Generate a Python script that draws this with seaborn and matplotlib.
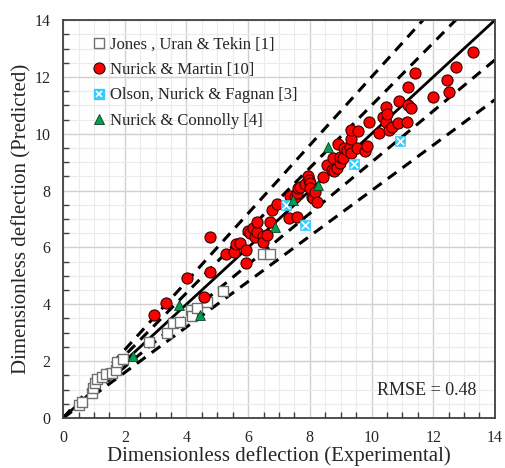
import numpy as np
import pandas as pd
import matplotlib
matplotlib.use('Agg')
import matplotlib.pyplot as plt
from matplotlib.lines import Line2D
from matplotlib.ticker import MultipleLocator
import seaborn as sns

# Jones, Uran & Tekin [1]
jones_x = [0.50, 0.62, 0.94, 0.97, 1.04, 1.10, 1.26, 1.39, 1.59, 1.72, 1.75, 1.94,
           2.79, 3.37, 3.56, 3.79, 4.15, 4.18, 4.34, 4.67, 5.18, 6.48, 6.71]
jones_y = [0.46, 0.56, 0.88, 1.06, 1.23, 1.37, 1.44, 1.55, 1.58, 1.69, 1.97, 2.08,
           2.67, 2.99, 3.34, 3.38, 3.80, 3.59, 3.87, 4.08, 4.47, 5.77, 5.77]

# Nurick & Martin [10]
martin_x = [2.95, 3.34, 4.02, 4.57, 4.76, 4.76, 5.28, 5.54, 5.61, 5.74, 5.93, 5.93, 5.99, 6.06,
            6.16, 6.22, 6.29, 6.29, 6.48, 6.48, 6.61, 6.71, 6.77, 6.93, 7.32, 7.58, 7.36, 7.52,
            7.58, 7.61, 7.68, 7.84, 7.94, 7.97, 8.00, 8.00, 8.07, 8.10, 8.17, 8.23, 8.43, 8.55,
            8.72, 8.78, 8.88, 8.75, 8.91, 8.98, 8.98, 9.07, 9.11, 9.20, 9.30, 9.33, 9.33, 9.33,
            9.53, 9.56, 9.79, 9.85, 9.92, 10.24, 10.37, 10.47, 10.47, 10.50, 10.56, 10.66, 10.86,
            10.89, 11.15, 11.18, 11.28, 11.18, 11.41, 11.99, 12.44, 12.51, 12.73, 13.29]
martin_y = [3.62, 4.05, 4.92, 4.26, 5.14, 6.35, 5.77, 5.84, 6.12, 6.16, 5.91, 5.45, 6.58, 6.51,
            6.68, 6.37, 6.54, 6.89, 6.40, 6.19, 6.44, 6.89, 7.32, 7.53, 7.03, 7.07, 7.81, 7.77,
            7.91, 8.09, 8.12, 8.23, 8.51, 8.37, 8.27, 8.09, 7.77, 7.74, 7.95, 7.60, 8.48, 8.90,
            8.72, 8.69, 8.79, 9.15, 9.64, 8.97, 9.18, 9.15, 9.50, 9.43, 9.53, 9.32, 9.81, 10.13,
            9.50, 10.09, 9.39, 9.57, 10.41, 10.02, 10.59, 10.94, 10.41, 10.69, 10.13, 10.24, 10.38,
            11.15, 10.41, 11.01, 10.90, 11.64, 12.13, 11.29, 11.89, 11.47, 12.35, 12.87]

# Olson, Nurick & Fagnan [3]
olson_x = [7.23, 7.84, 9.43, 10.92]
olson_y = [7.49, 6.79, 8.93, 9.74]

# Nurick & Connolly [4]
connolly_x = [2.27, 3.76, 4.44, 6.87, 7.45, 8.27, 8.59]
connolly_y = [2.18, 3.97, 3.62, 6.72, 7.67, 8.19, 9.53]

ratios = [0.8, 0.9, 1.1, 1.2]
line_x = np.array([0, 14])

sns.set_style('ticks')
plt.rcParams['font.family'] = ['Liberation Serif', 'DejaVu Serif']

fig, ax = plt.subplots(figsize=(5.05, 4.68), dpi=100)
fig.subplots_adjust(left=0.125, right=0.980, bottom=0.107, top=0.957)

# grid
ax.xaxis.set_major_locator(MultipleLocator(2))
ax.yaxis.set_major_locator(MultipleLocator(2))
ax.xaxis.set_minor_locator(MultipleLocator(0.5))
ax.yaxis.set_minor_locator(MultipleLocator(0.5))
ax.grid(which='minor', color='#ebebeb', lw=0.8, zorder=0)
ax.grid(which='major', color='#d0d0d0', lw=1.0, zorder=0)
ax.set_axisbelow(True)

# 1:1 and +-10 %, +-20 % lines
sns.lineplot(x=line_x, y=line_x, color='black', lw=2, ax=ax, zorder=2)
for r in ratios:
    sns.lineplot(x=line_x, y=r * line_x, color='black', lw=2.2, ax=ax, zorder=2,
                 linestyle=(0, (3.5, 2.5)))

sns.scatterplot(x=jones_x, y=jones_y, marker='s', s=50, color='white',
                edgecolor='#707070', linewidth=1.0, ax=ax, zorder=3)
sns.scatterplot(x=martin_x, y=martin_y, marker='o', s=64, color='#ff0000',
                edgecolor='#3a0000', linewidth=0.8, ax=ax, zorder=4)
sns.scatterplot(x=olson_x, y=olson_y, marker='s', s=55, color='#33ccff',
                edgecolor='#33ccff', linewidth=0.5, ax=ax, zorder=5)
sns.scatterplot(x=olson_x, y=olson_y, marker='x', s=30, color='white',
                linewidth=1.2, ax=ax, zorder=6)
sns.scatterplot(x=connolly_x, y=connolly_y, marker='^', s=50, color='#00a050',
                edgecolor='#0b3d1f', linewidth=0.6, ax=ax, zorder=7)

ax.set_xlim(0, 14)
ax.set_ylim(0, 14)
ax.tick_params(which='both', direction='in', top=False, right=False, labelsize=11.5,
               color='#404040')
ax.tick_params(which='major', length=0)
ax.tick_params(which='minor', length=4, width=1)
ax.tick_params(axis='x', pad=9)
ax.tick_params(axis='y', pad=9)
for sp in ax.spines.values():
    sp.set_color('#404040')
    sp.set_linewidth(1.3)
    sp.set_visible(True)

ax.set_xlabel('Dimensionless deflection (Experimental)', fontsize=15, labelpad=0)
ax.set_ylabel('Dimensionless deflection (Predicted)', fontsize=15, labelpad=2)

ax.text(13.4, 0.95, 'RMSE = 0.48', ha='right', va='center', fontsize=13)

h_jones = Line2D([], [], ls='none', marker='s', ms=7, mfc='white', mec='#707070', mew=1)
h_martin = Line2D([], [], ls='none', marker='o', ms=8, mfc='#ff0000', mec='#3a0000', mew=0.8)
h_olson = (Line2D([], [], ls='none', marker='s', ms=7, mfc='#33ccff', mec='#33ccff'),
           Line2D([], [], ls='none', marker='x', ms=5, mec='white', mew=1.2))
h_conn = Line2D([], [], ls='none', marker='^', ms=7, mfc='#00a050', mec='#0b3d1f', mew=0.6)
ax.legend([h_jones, h_martin, h_olson, h_conn],
          ['Jones , Uran & Tekin [1]', 'Nurick & Martin [10]',
           'Olson, Nurick & Fagnan [3]', 'Nurick & Connolly [4]'],
          loc='upper left', bbox_to_anchor=(0.025, 0.995), frameon=False, fontsize=12,
          handletextpad=0.05, labelspacing=0.55, handlelength=1.2)

fig.savefig('out.png', dpi=100)
